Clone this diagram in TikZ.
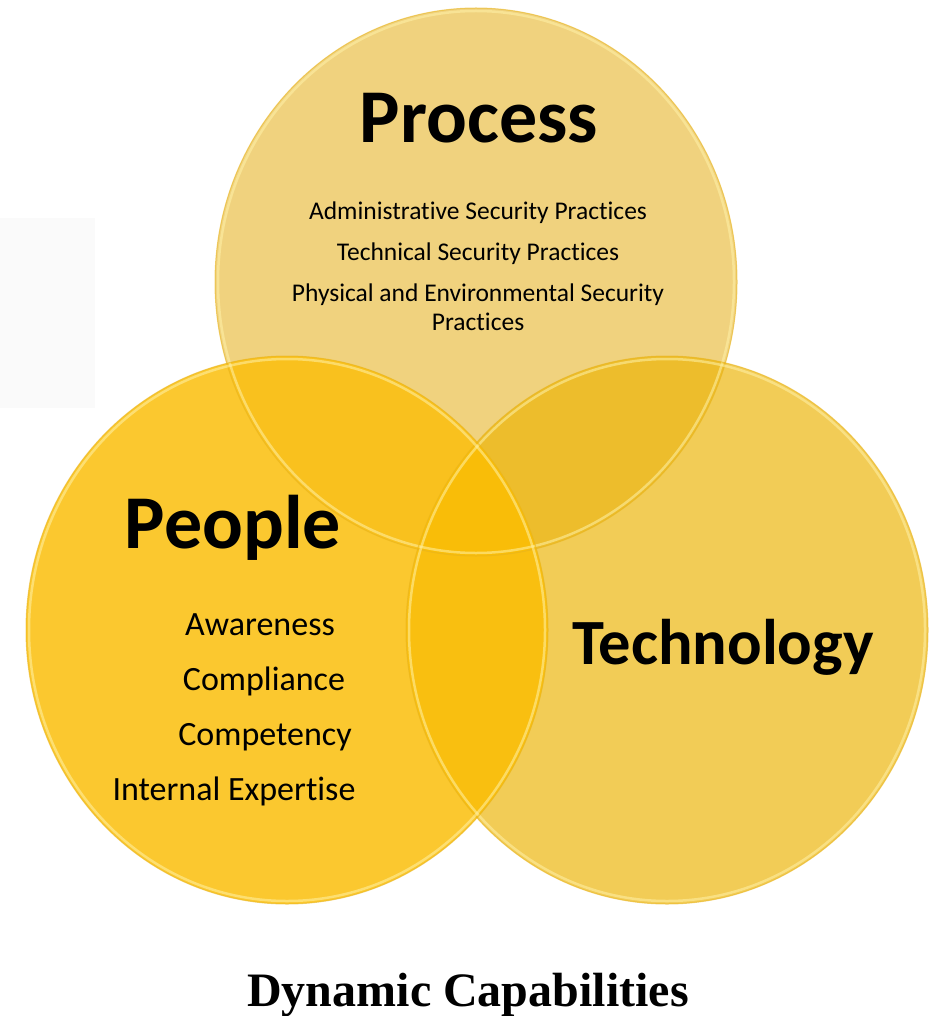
\documentclass[tikz,border=0pt]{standalone}
\usepackage{fontspec}
\setmainfont{Carlito}[Ligatures=NoCommon]
\newfontfamily\capfont{Liberation Serif}

\definecolor{boxgray}{HTML}{FAFAFA}
\definecolor{processfill}{HTML}{F0D27E}
\definecolor{techfill}{HTML}{F2CC56}
\definecolor{peoplefill}{HTML}{FBC82F}
\definecolor{protech}{HTML}{EDBD2C}
\definecolor{propeople}{HTML}{F9C11E}
\definecolor{peopletech}{HTML}{F9BF10}
\definecolor{allthree}{HTML}{F9BD08}
\definecolor{rimcol}{HTML}{E8B41C}
\definecolor{shinecol}{HTML}{FFF2A8}

\begin{document}
\begin{tikzpicture}[x=1pt, y=-1pt,
	rim/.style={draw=rimcol, line width=1pt, opacity=0.6},
	shine/.style={draw=shinecol, line width=2.5pt, opacity=0.55},
	title/.style={anchor=base, font=\bfseries\fontsize{76}{80}\selectfont},
	item/.style={anchor=base, font=\fontsize{25.5}{28}\selectfont},
	pitem/.style={anchor=base, font=\fontsize{34}{38}\selectfont}]
	\def\radx{261pt}
	\def\rady{274pt}
	\useasboundingbox (0,0) rectangle (935,1016);

	\coordinate (process) at (476,282);
	\coordinate (people) at (287,630);
	\coordinate (tech) at (667,630);

	% faint box at the left
	\fill[boxgray] (0,218) rectangle (95,408);

	% the three circles, process at the back
	\fill[processfill] (process) ellipse [x radius=\radx, y radius=\rady];
	\fill[techfill] (tech) ellipse [x radius=\radx, y radius=\rady];
	\fill[peoplefill] (people) ellipse [x radius=\radx, y radius=\rady];

	% overlaps
	\begin{scope}
		\clip (tech) ellipse [x radius=\radx, y radius=\rady];
		\fill[peopletech] (people) ellipse [x radius=\radx, y radius=\rady];
	\end{scope}
	\begin{scope}
		\clip (process) ellipse [x radius=\radx, y radius=\rady];
		\fill[protech] (tech) ellipse [x radius=\radx, y radius=\rady];
		\fill[propeople] (people) ellipse [x radius=\radx, y radius=\rady];
		\clip (tech) ellipse [x radius=\radx, y radius=\rady];
		\fill[allthree] (people) ellipse [x radius=\radx, y radius=\rady];
	\end{scope}

	% glossy rims
	\foreach \c in {process,tech,people} {
		\draw[shine] (\c) ellipse [x radius=258pt, y radius=271pt];
		\draw[rim] (\c) ellipse [x radius=\radx, y radius=\rady];
	}

	% process
	\node[title] (proc) at (479,143) {Process};
	\node[item] (admin) at (478,220) {Administrative Security Practices};
	\node[item] (techsec) at (478,260) {Technical Security Practices};
	\node[item] (physical) at (478,301) {Physical and Environmental Security};
	\node[item] (physical2) at (478,330) {Practices};

	% people
	\node[title] (peop) at (233,548) {People};
	\node[pitem] (aware) at (260,635) {Awareness};
	\node[pitem] (compl) at (264,690) {Compliance};
	\node[pitem] (compet) at (265,745) {Competency};
	\node[pitem] (expert) at (234,800) {Internal Expertise};

	% technology
	\node[title, font=\bfseries\fontsize{64.5}{68}\selectfont] (techn) at (723,664) {Technology};

	\node[anchor=base, font=\capfont\bfseries\fontsize{48}{50}\selectfont] (caption) at (468,1006) {Dynamic Capabilities};
\end{tikzpicture}
\end{document}
